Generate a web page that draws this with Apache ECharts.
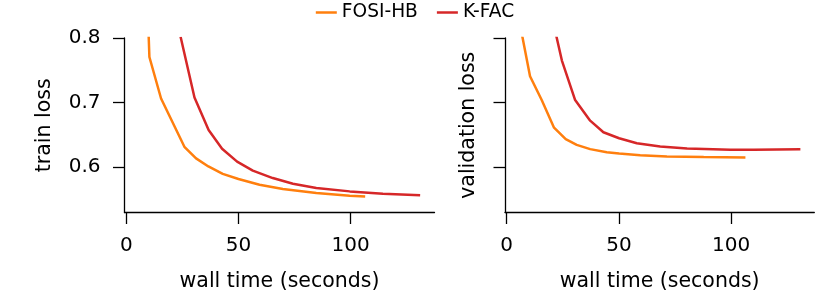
<!DOCTYPE html>
<html>
<head>
<meta charset="utf-8">
<script src="https://cdn.jsdelivr.net/npm/echarts@6/dist/echarts.min.js"></script>
<style>
html,body{margin:0;padding:0;background:#fff;}
#chart{width:830px;height:291px;}
</style>
</head>
<body>
<div id="chart"></div>
<script>
// ---- data ----
var seriesNames = ['FOSI-HB', 'K-FAC'];

var fosiTrainX = [5.1, 10.3, 15.5, 25.9, 31.1, 36.6, 43.0, 50.0, 59.4, 69.8, 84.7, 99.6, 106.5];
var fosiTrainY = [1.29, 0.7705, 0.706, 0.631, 0.613, 0.6005, 0.589, 0.581, 0.572, 0.5655, 0.5593, 0.5552, 0.554];

var kfacTrainX = [24.2, 30.4, 36.7, 42.7, 49.4, 56.4, 65.3, 74.3, 84.7, 99.6, 114.4, 131.0];
var kfacTrainY = [0.802, 0.7077, 0.657, 0.628, 0.608, 0.594, 0.5825, 0.5737, 0.567, 0.5618, 0.5583, 0.5556];

var fosiValX = [5.2, 10.4, 15.6, 21.1, 26.3, 31.2, 37.2, 44.6, 50.1, 59.5, 71.4, 87.8, 106.4];
var fosiValY = [0.834, 0.7407, 0.7036, 0.6607, 0.6428, 0.634, 0.6274, 0.6227, 0.6206, 0.618, 0.616, 0.615, 0.6144];

var kfacValX = [18.6, 24.6, 30.5, 37.2, 43.1, 50.1, 58.0, 68.4, 80.4, 99.7, 110.0, 130.9];
var kfacValY = [0.857, 0.765, 0.7036, 0.6716, 0.6536, 0.6443, 0.6366, 0.6314, 0.6283, 0.6263, 0.6263, 0.6274];

var xTicks = [0, 50, 100];
var yTicks = [0.6, 0.7, 0.8];
var yTickLabels = ['0.6', '0.7', '0.8'];

// ---- build ----
function pairs(xs, ys) { return xs.map(function (x, i) { return [x, ys[i]]; }); }

var FONT = 'DejaVu Sans';
var colors = ['#ff7f0e', '#d62728'];

function xAxisCfg(gridIndex, min, max) {
  return {
    type: 'value', gridIndex: gridIndex, min: min, max: max,
    name: 'wall time (seconds)', nameLocation: 'middle', nameGap: 59,
    nameTextStyle: { fontFamily: FONT, fontSize: 20.5, color: '#000' },
    axisLine: { show: true, onZero: false, lineStyle: { color: '#000', width: 1.3 } },
    axisTick: { show: true, length: 11.5, lineStyle: { color: '#000', width: 1.3 }, customValues: xTicks },
    axisLabel: { show: true, margin: 23, fontFamily: FONT, fontSize: 20, color: '#000', customValues: xTicks },
    splitLine: { show: false }
  };
}
function yAxisCfg(gridIndex, name, showLabels, nameGap) {
  return {
    type: 'value', gridIndex: gridIndex, min: 0.529, max: 0.8,
    name: name, nameLocation: 'middle', nameGap: nameGap, nameRotate: 90,
    nameTextStyle: { fontFamily: FONT, fontSize: 20.5, color: '#000' },
    axisLine: { show: true, onZero: false, lineStyle: { color: '#000', width: 1.3 } },
    axisTick: { show: true, length: 11.5, lineStyle: { color: '#000', width: 1.3 }, customValues: yTicks },
    axisLabel: {
      show: showLabels, margin: 24, fontFamily: FONT, fontSize: 20, color: '#000',
      customValues: yTicks,
      formatter: function (v) { var i = yTicks.indexOf(Math.round(v * 10) / 10); return i >= 0 ? yTickLabels[i] : ''; }
    },
    splitLine: { show: false }
  };
}
function lineSeries(name, color, xi, yi, data) {
  return {
    type: 'line', name: name, xAxisIndex: xi, yAxisIndex: yi, data: data,
    showSymbol: false, symbol: 'none', clip: true, smooth: false,
    lineStyle: { color: color, width: 2.5 }, itemStyle: { color: color },
    animation: false
  };
}

var chart = echarts.init(document.getElementById('chart'), null, { renderer: 'canvas' });
chart.setOption({
  animation: false,
  backgroundColor: '#fff',
  legend: {
    data: seriesNames, top: -2, left: 'center', icon: 'rect',
    itemWidth: 21, itemHeight: 2.5, itemGap: 19,
    textStyle: { fontFamily: FONT, fontSize: 18.6, color: '#000', padding: [0, 0, 0, 0] }
  },
  grid: [
    { left: 124.5, top: 38, width: 310, height: 174.5, containLabel: false, outerBoundsMode: 'none' },
    { left: 505, top: 38, width: 309.3, height: 174.5, containLabel: false, outerBoundsMode: 'none' }
  ],
  xAxis: [xAxisCfg(0, -0.8, 137.4), xAxisCfg(1, -0.76, 137.1)],
  yAxis: [yAxisCfg(0, 'train loss', true, 69), yAxisCfg(1, 'validation loss', false, 26)],
  series: [
    lineSeries(seriesNames[0], colors[0], 0, 0, pairs(fosiTrainX, fosiTrainY)),
    lineSeries(seriesNames[1], colors[1], 0, 0, pairs(kfacTrainX, kfacTrainY)),
    lineSeries(seriesNames[0], colors[0], 1, 1, pairs(fosiValX, fosiValY)),
    lineSeries(seriesNames[1], colors[1], 1, 1, pairs(kfacValX, kfacValY))
  ]
});
</script>
</body>
</html>
